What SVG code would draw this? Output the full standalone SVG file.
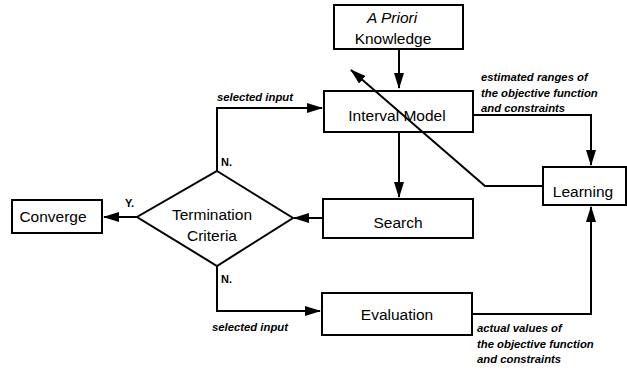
<svg xmlns="http://www.w3.org/2000/svg" width="627" height="371" viewBox="0 0 627 371">
<style>
.box{fill:#fff;stroke:#000;stroke-width:2}
.t{font-family:"Liberation Sans",Arial,sans-serif;font-size:15.5px;fill:#000;text-anchor:middle}
.s{font-family:"Liberation Sans",Arial,sans-serif;font-size:11.3px;font-style:italic;font-weight:bold;fill:#000}
.n{font-family:"Liberation Sans",Arial,sans-serif;font-size:11px;font-weight:bold;fill:#000}
.c{fill:none;stroke:#000;stroke-width:2}
</style>
<defs>
<marker id="ah" markerWidth="16" markerHeight="10" refX="15" refY="5" orient="auto" markerUnits="userSpaceOnUse">
<path d="M0,0 L16,5 L0,10 z" fill="#000"/>
</marker>
</defs>
<g id="connectors">
<path class="c" d="M399,49 V88" marker-end="url(#ah)"/>
<path class="c" d="M217,172 V108 H322" marker-end="url(#ah)"/>
<path class="c" d="M399,132 V197" marker-end="url(#ah)"/>
<path class="c" d="M323,218 H294" marker-end="url(#ah)"/>
<path class="c" d="M137,217 H104" marker-end="url(#ah)"/>
<path class="c" d="M217,266 V311 H320" marker-end="url(#ah)"/>
<path class="c" d="M473,115 H591 V165" marker-end="url(#ah)"/>
<path class="c" d="M472,314 H591 V207" marker-end="url(#ah)"/>
<path class="c" d="M543,186 H485 L351,70" marker-end="url(#ah)"/>
</g>
<g id="apriori">
<rect class="box" x="334" y="5" width="129" height="44"/>
<text class="t" x="392" y="23" font-style="italic">A Priori</text>
<text class="t" x="393" y="44">Knowledge</text>
</g>
<g id="interval">
<rect class="box" x="324" y="91" width="149" height="41" fill-opacity="0"/>
<text class="t" x="397" y="121">Interval Model</text>
</g>
<g id="search">
<rect class="box" x="323" y="199" width="150" height="39"/>
<text class="t" x="398" y="228">Search</text>
</g>
<g id="evaluation">
<rect class="box" x="322" y="293" width="150" height="42"/>
<text class="t" x="397" y="320">Evaluation</text>
</g>
<g id="learning">
<rect class="box" x="543" y="167" width="83" height="38"/>
<text class="t" x="583" y="197">Learning</text>
</g>
<g id="converge">
<rect class="box" x="12" y="200" width="90" height="33"/>
<text class="t" x="53" y="222">Converge</text>
</g>
<g id="termination">
<polygon class="box" points="217,171 293,218 217,266 137,217"/>
<text class="t" x="212" y="220">Termination</text>
<text class="t" x="212" y="241">Criteria</text>
</g>
<g id="labels">
<text class="s" x="217" y="101">selected input</text>
<text class="s" x="212" y="331">selected input</text>
<text class="n" x="221" y="166">N.</text>
<text class="n" x="221" y="283">N.</text>
<text class="n" x="125" y="207">Y.</text>
<text class="s" x="481" y="81">estimated ranges of</text>
<text class="s" x="481" y="97">the objective function</text>
<text class="s" x="481" y="112">and constraints</text>
<text class="s" x="477" y="332">actual values of</text>
<text class="s" x="477" y="348">the objective function</text>
<text class="s" x="477" y="363">and constraints</text>
</g>
</svg>
